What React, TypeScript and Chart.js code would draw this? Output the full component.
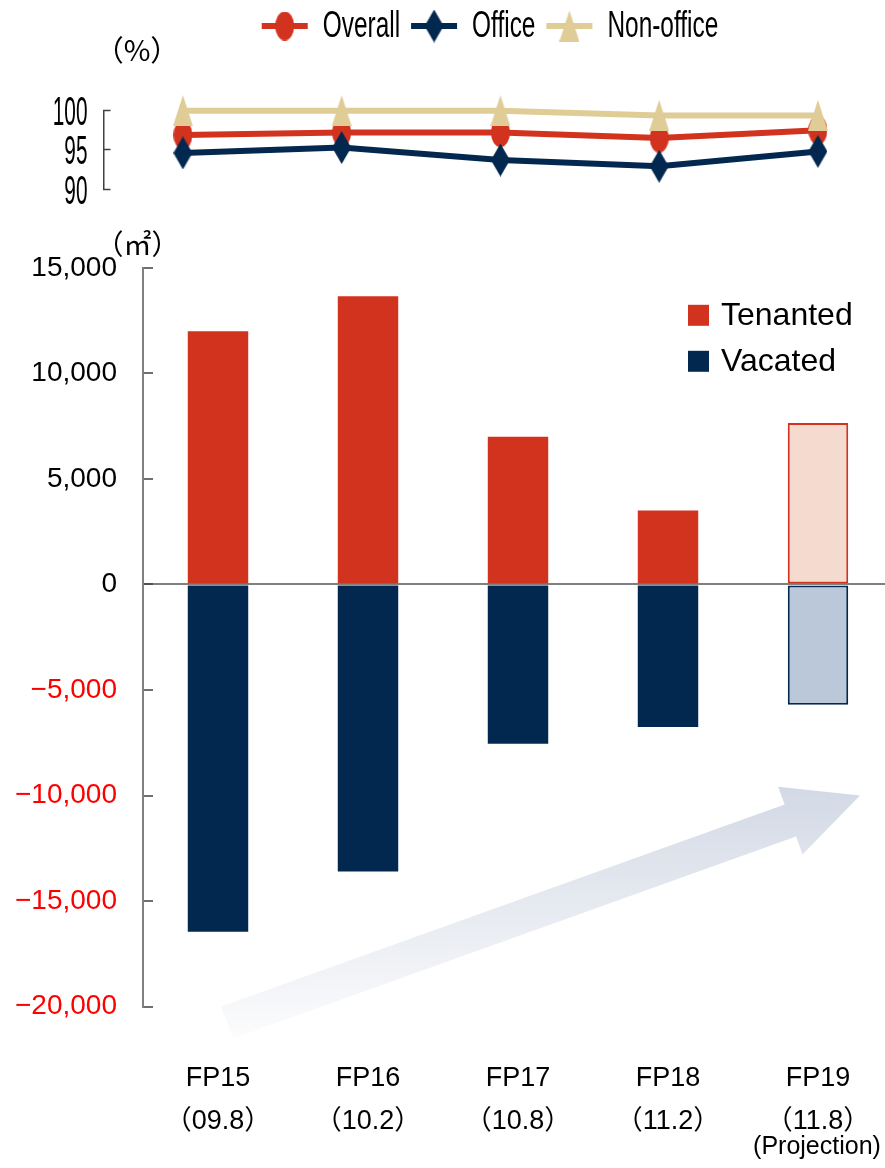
import React, { useEffect, useRef } from 'react';
import { Chart, registerables } from 'chart.js';

Chart.register(...registerables);

// ---------- data ----------
const periods = ['FP15', 'FP16', 'FP17', 'FP18', 'FP19'];
const periodDates = ['（09.8）', '（10.2）', '（10.8）', '（11.2）', '（11.8）'];
const projectionNote = '(Projection)';
const projectionIndex = 4;

const occupancyLabels = ['Overall', 'Office', 'Non-office'];
const occupancyOverall = [96.9, 97.2, 97.2, 96.5, 97.5];
const occupancyOffice = [94.6, 95.3, 93.7, 92.9, 94.8];
const occupancyNonOffice = [100, 100, 100, 99.4, 99.4];
const occupancyTicks = [90, 95, 100];
const occupancyUnit = '（%）';

const areaLabels = ['Tenanted', 'Vacated'];
const tenanted = [12000, 13650, 7000, 3500, 7650];
const vacated = [-16450, -13600, -7550, -6750, -5700];
const areaTicks = [15000, 10000, 5000, 0, -5000, -10000, -15000, -20000];
const areaUnit = '（㎡）';

// trend arrow (category index, value)
const arrowTail = [0.06, -20750];
const arrowTip = [4.28, -10000];

// ---------- style ----------
const RED = '#D1331F';
const NAVY = '#03284F';
const BEIGE = '#DFCC96';
const RED_LIGHT = '#F5DACF';
const NAVY_LIGHT = '#BBC8DA';
const SANS = "'Liberation Sans', Arial, 'Noto Sans CJK JP', sans-serif";
const CJK = "'Noto Sans CJK JP', 'Liberation Sans', sans-serif";

const W1 = 905, H1 = 215;
const W2 = 900, H2 = 953, TOP2 = 215;

function makeMarker(shape: string, w: number, h: number, color: string) {
  const c = document.createElement('canvas');
  c.width = w; c.height = h;
  const ctx = c.getContext('2d')!;
  ctx.fillStyle = color;
  ctx.beginPath();
  if (shape === 'ellipse') {
    ctx.ellipse(w / 2, h / 2, w / 2, h / 2, 0, 0, Math.PI * 2);
  } else if (shape === 'diamond') {
    ctx.moveTo(w / 2, 0); ctx.lineTo(w, h / 2); ctx.lineTo(w / 2, h); ctx.lineTo(0, h / 2);
  } else {
    ctx.moveTo(w / 2, 0); ctx.lineTo(w, h); ctx.lineTo(0, h);
  }
  ctx.closePath();
  ctx.fill();
  return c;
}

function fmtArea(v: number) {
  const s = Math.abs(v).toLocaleString('en-US');
  return v < 0 ? '\u2212' + s : s;
}

function condensedText(ctx: CanvasRenderingContext2D, text: string, x: number, y: number, sx: number, align: CanvasTextAlign) {
  ctx.save();
  ctx.translate(x, y);
  ctx.scale(sx, 1);
  ctx.textAlign = align;
  ctx.fillText(text, 0, 0);
  ctx.restore();
}

const noHorizontalPadding = (s: any) => { s.paddingLeft = 0; s.paddingRight = 0; };

// ---------- plugins (top chart) ----------
const occLegend = {
  id: 'occLegend',
  afterDraw(chart: any) {
    const ctx = chart.ctx as CanvasRenderingContext2D;
    const ds = chart.data.datasets;
    const sx = 0.66, lineLen = 46, gap1 = 15, gap2 = 11;
    ctx.save();
    ctx.font = `37px ${SANS}`;
    ctx.textBaseline = 'middle';
    const widths = ds.map((d: any) => ctx.measureText(d.label).width * sx);
    const total = ds.length * (lineLen + gap1) + widths.reduce((a: number, b: number) => a + b, 0) + (ds.length - 1) * gap2;
    let x = 490 - total / 2;
    const y = 26;
    ds.forEach((d: any, i: number) => {
      ctx.strokeStyle = d.borderColor;
      ctx.lineWidth = 6;
      ctx.beginPath();
      ctx.moveTo(x, y); ctx.lineTo(x + lineLen, y);
      ctx.stroke();
      const m = d.pointStyle as HTMLCanvasElement;
      ctx.drawImage(m, x + lineLen / 2 - m.width / 2, y - m.height / 2);
      x += lineLen + gap1;
      ctx.fillStyle = '#000';
      condensedText(ctx, d.label, x, y + 1, sx, 'left');
      x += widths[i] + gap2;
    });
    ctx.restore();
  },
};

const occTicks = {
  id: 'occTicks',
  afterDraw(chart: any) {
    const ctx = chart.ctx as CanvasRenderingContext2D;
    const s = chart.scales.y;
    const area = chart.chartArea;
    ctx.save();
    ctx.font = `40px ${SANS}`;
    ctx.fillStyle = '#000';
    ctx.textBaseline = 'middle';
    s.ticks.forEach((t: any) => {
      condensedText(ctx, String(t.label), area.left - 16, s.getPixelForValue(t.value) + 3.5, 0.52, 'right');
    });
    ctx.font = `29px ${CJK}`;
    ctx.textAlign = 'center';
    ctx.fillText(occupancyUnit, area.left + 33.5, area.top - 60.5);
    ctx.restore();
  },
};

// ---------- plugins (bottom chart) ----------
const trendArrow = {
  id: 'trendArrow',
  beforeDatasetsDraw(chart: any) {
    const { ctx, scales: { x, y } } = chart;
    const tx = x.getPixelForValue(arrowTail[0]), ty = y.getPixelForValue(arrowTail[1]);
    const hx = x.getPixelForValue(arrowTip[0]), hy = y.getPixelForValue(arrowTip[1]);
    const dx = hx - tx, dy = hy - ty, len = Math.hypot(dx, dy);
    const ux = dx / len, uy = dy / len, nx = -uy, ny = ux;
    const shaft = 17, head = 36, headLen = 74;
    const bx = hx - ux * headLen, by = hy - uy * headLen;
    ctx.save();
    const g = ctx.createLinearGradient(0, hy - 10, 0, ty + 15);
    g.addColorStop(0, '#D2D9E5');
    g.addColorStop(1, '#FCFCFD');
    ctx.fillStyle = g;
    ctx.beginPath();
    ctx.moveTo(tx + nx * shaft, ty + ny * shaft);
    ctx.lineTo(bx + nx * shaft, by + ny * shaft);
    ctx.lineTo(bx + nx * head, by + ny * head);
    ctx.lineTo(hx, hy);
    ctx.lineTo(bx - nx * head, by - ny * head);
    ctx.lineTo(bx - nx * shaft, by - ny * shaft);
    ctx.lineTo(tx - nx * shaft, ty - ny * shaft);
    ctx.closePath();
    ctx.fill();
    ctx.restore();
  },
};

const areaDecor = {
  id: 'areaDecor',
  afterDraw(chart: any) {
    const ctx = chart.ctx as CanvasRenderingContext2D;
    const area = chart.chartArea;
    ctx.save();
    // legend inside plot
    ctx.font = `32px ${SANS}`;
    ctx.textBaseline = 'middle';
    ctx.textAlign = 'left';
    chart.data.datasets.forEach((d: any, i: number) => {
      const sx = area.right - 205;
      const sy = area.top + 37 + i * 46;
      ctx.fillStyle = d.legendColor;
      ctx.fillRect(sx, sy, 21, 21);
      ctx.fillStyle = '#000';
      ctx.fillText(d.label, sx + 33, sy + 11);
    });
    // unit
    ctx.font = `28px ${CJK}`;
    ctx.textAlign = 'center';
    ctx.fillText(areaUnit, area.left - 5.5, area.top - 23);
    // projection note
    ctx.font = `25px ${SANS}`;
    ctx.fillText(projectionNote, chart.scales.x.getPixelForValue(projectionIndex) - 1, area.bottom + 140);
    ctx.restore();
  },
};

export default function App() {
  const topRef = useRef<HTMLCanvasElement>(null);
  const botRef = useRef<HTMLCanvasElement>(null);

  useEffect(() => {
    const markers = [
      makeMarker('ellipse', 19, 29, RED),
      makeMarker('diamond', 19, 33, NAVY),
      makeMarker('triangle', 20, 31, BEIGE),
    ];
    const occSeries = [occupancyOverall, occupancyOffice, occupancyNonOffice];
    const occColors = [RED, NAVY, BEIGE];

    const top = new Chart(topRef.current!, {
      type: 'line',
      data: {
        labels: periods,
        datasets: occSeries.map((data, i) => ({
          label: occupancyLabels[i],
          data,
          borderColor: occColors[i],
          backgroundColor: occColors[i],
          borderWidth: 6,
          pointStyle: markers[i] as any,
          pointRadius: 10,
          clip: false as any,
          order: 3 - i,
        })),
      },
      options: {
        responsive: false,
        animation: false,
        events: [],
        layout: { autoPadding: false, padding: { left: 0, top: 110.7, right: W1 - 897.3, bottom: H1 - 189 } },
        plugins: { legend: { display: false }, tooltip: { enabled: false } },
        scales: {
          x: { type: 'category', display: false, offset: true, afterFit: noHorizontalPadding },
          y: {
            min: 90,
            max: 100,
            afterBuildTicks: (s: any) => { s.ticks = occupancyTicks.map((v) => ({ value: v })); },
            afterFit: (s: any) => { s.width = 103.5; },
            ticks: { display: false },
            grid: { drawOnChartArea: false, tickLength: -7, tickColor: '#404040', tickWidth: 1.5 },
            border: { color: '#404040', width: 1.5 },
          },
        },
      },
      plugins: [occLegend, occTicks],
    });

    const areaSeries = [tenanted, vacated];
    const solid = [RED, NAVY];
    const light = [RED_LIGHT, NAVY_LIGHT];

    const bot = new Chart(botRef.current!, {
      type: 'bar',
      data: {
        labels: periods.map((p, i) => [p, periodDates[i]]),
        datasets: areaSeries.map((data, k) => ({
          label: areaLabels[k],
          data,
          legendColor: solid[k],
          backgroundColor: data.map((_, i) => (i === projectionIndex ? light[k] : solid[k])),
          borderColor: solid[k],
          borderWidth: data.map((_, i) => (i === projectionIndex ? 2 : 0)),
          borderSkipped: false,
          barPercentage: 0.403,
          categoryPercentage: 1,
        })) as any,
      },
      options: {
        responsive: false,
        animation: false,
        events: [],
        layout: { autoPadding: false, padding: { left: 0, top: 264.7 - TOP2, right: W2 - 893, bottom: 0 } },
        plugins: { legend: { display: false }, tooltip: { enabled: false } },
        scales: {
          x: {
            stacked: true,
            grid: { display: false, drawTicks: false },
            border: { display: false },
            ticks: {
              font: { family: SANS, size: 27, lineHeight: 1.6 },
              color: '#000',
              padding: 50,
              maxRotation: 0,
              autoSkip: false,
            },
            afterFit: (s: any) => {
              s.height = H2 - (1006.7 - TOP2);
              noHorizontalPadding(s);
            },
          },
          y: {
            stacked: true,
            min: -20000,
            max: 15000,
            afterBuildTicks: (s: any) => { s.ticks = areaTicks.map((v) => ({ value: v })); },
            afterFit: (s: any) => { s.width = 143; },
            ticks: {
              font: { family: SANS, size: 28 },
              color: (c: any) => (c.tick && c.tick.value < 0 ? '#FF0000' : '#000000'),
              padding: 36,
              callback: (v: any) => fmtArea(Number(v)),
            },
            grid: {
              color: (c: any) => (c.tick && c.tick.value === 0 ? '#808080' : 'rgba(0,0,0,0)'),
              lineWidth: 2,
              tickLength: -10,
              tickColor: '#404040',
              tickWidth: 1.5,
            },
            border: { color: '#808080', width: 2 },
          },
        },
      },
      plugins: [trendArrow, areaDecor],
    });

    return () => {
      top.destroy();
      bot.destroy();
    };
  }, []);

  return (
    <div style={{ position: 'absolute', left: 0, top: 0, width: 885, height: 1168, overflow: 'hidden', background: '#fff' }}>
      <canvas ref={topRef} width={W1} height={H1} style={{ position: 'absolute', left: 0, top: 0, width: W1, height: H1 }} />
      <canvas ref={botRef} width={W2} height={H2} style={{ position: 'absolute', left: 0, top: TOP2, width: W2, height: H2 }} />
    </div>
  );
}
